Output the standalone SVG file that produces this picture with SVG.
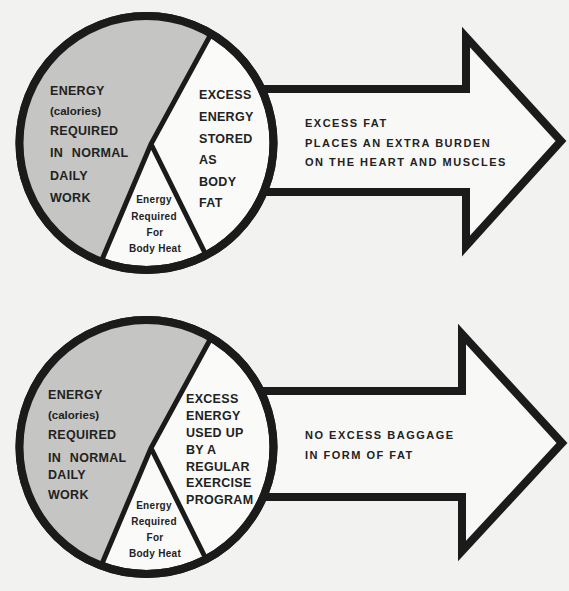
<svg xmlns="http://www.w3.org/2000/svg" width="569" height="591" viewBox="0 0 569 591">
<style>
.bg{fill:#f2f2f0}
.ring{fill:#fafaf9;stroke:#1b1b1b;stroke-width:8}
.gray{fill:#c5c5c3}
.div{fill:none;stroke:#1b1b1b;stroke-width:5;stroke-linejoin:miter}
.arrow{fill:#f8f8f6;stroke:#1b1b1b;stroke-width:8;stroke-linejoin:miter;stroke-miterlimit:10}
.big{font-family:"Liberation Sans",Arial,sans-serif;font-weight:bold;font-size:12.5px;fill:#222;letter-spacing:0.3px}
.wide{word-spacing:5px}
.low{font-family:"Liberation Sans",Arial,sans-serif;font-weight:bold;font-size:11.5px;fill:#222}
.sm{font-family:"Liberation Sans",Arial,sans-serif;font-weight:bold;font-size:10px;fill:#222;text-anchor:middle;letter-spacing:0.3px}
.arr{font-family:"Liberation Sans",Arial,sans-serif;font-weight:bold;font-size:11px;fill:#222;letter-spacing:1.5px}
</style>
<rect class="bg" x="0" y="0" width="569" height="591"/>
<g id="arrow-top">
<path class="arrow" d="M240,89 L466,89 L466,37 L561,141 L466,246 L466,192 L240,192"/>
<text class="arr" x="305" y="127">EXCESS FAT</text>
<text class="arr" x="305" y="147">PLACES AN EXTRA BURDEN</text>
<text class="arr" x="305" y="166">ON THE HEART AND MUSCLES</text>
</g>
<g id="arrow-bottom">
<path class="arrow" d="M240,391 L462,391 L462,334 L562,443 L462,551 L462,497 L240,497"/>
<text class="arr" x="305" y="439">NO EXCESS BAGGAGE</text>
<text class="arr" x="305" y="459">IN FORM OF FAT</text>
</g>
<g id="pie-top">
<circle class="ring" cx="146.5" cy="143" r="127"/>
<path class="gray" d="M211,34 L151,144 L101,262 A127,127 0 1 1 211,34 Z"/>
<path class="div" d="M211,34 L151,144 L101,262 M151,144 L206,255"/>
<circle cx="146.5" cy="143" r="127" fill="none" stroke="#1b1b1b" stroke-width="8"/>
<text class="big" x="50" y="95">ENERGY</text>
<text class="low" x="50" y="115">(calories)</text>
<text class="big" x="50" y="135">REQUIRED</text>
<text class="big wide" x="50" y="157">IN NORMAL</text>
<text class="big" x="50" y="180">DAILY</text>
<text class="big" x="50" y="202">WORK</text>
<text class="big" x="199" y="99">EXCESS</text>
<text class="big" x="199" y="121">ENERGY</text>
<text class="big" x="199" y="143">STORED</text>
<text class="big" x="199" y="164">AS</text>
<text class="big" x="199" y="186">BODY</text>
<text class="big" x="199" y="207">FAT</text>
<text class="sm" x="154" y="203">Energy</text>
<text class="sm" x="154" y="220">Required</text>
<text class="sm" x="155" y="236">For</text>
<text class="sm" x="155" y="252">Body Heat</text>
</g>
<g id="pie-bottom">
<circle class="ring" cx="146.5" cy="447" r="127"/>
<path class="gray" d="M211,338 L151,448 L101,566 A127,127 0 1 1 211,338 Z"/>
<path class="div" d="M211,338 L151,448 L101,566 M151,448 L206,559"/>
<circle cx="146.5" cy="447" r="127" fill="none" stroke="#1b1b1b" stroke-width="8"/>
<text class="big" x="48" y="399">ENERGY</text>
<text class="low" x="48" y="419">(calories)</text>
<text class="big" x="48" y="439">REQUIRED</text>
<text class="big wide" x="48" y="462">IN NORMAL</text>
<text class="big" x="48" y="479">DAILY</text>
<text class="big" x="48" y="499">WORK</text>
<text class="big" x="186" y="403">EXCESS</text>
<text class="big" x="186" y="420">ENERGY</text>
<text class="big" x="186" y="437">USED UP</text>
<text class="big" x="186" y="454">BY A</text>
<text class="big" x="186" y="471">REGULAR</text>
<text class="big" x="186" y="487">EXERCISE</text>
<text class="big" x="186" y="504">PROGRAM</text>
<text class="sm" x="154" y="509">Energy</text>
<text class="sm" x="154" y="525">Required</text>
<text class="sm" x="155" y="541">For</text>
<text class="sm" x="155" y="557">Body Heat</text>
</g>
</svg>
